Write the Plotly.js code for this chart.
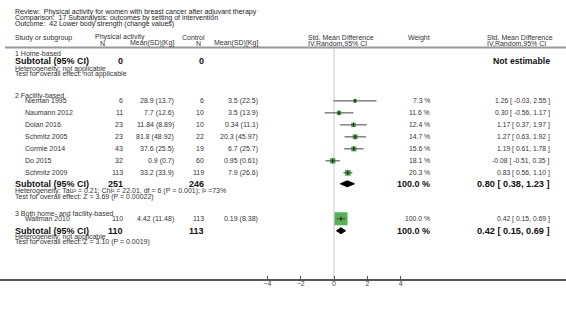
<!DOCTYPE html>
<html><head><meta charset="utf-8">
<script src="https://cdn.plot.ly/plotly-3.0.1.min.js"></script>
<style>html,body{margin:0;padding:0;background:#fff}#chart{width:566px;height:309px}</style>
</head><body><div id="chart"></div>
<script>
// ---- data ----
const facilityStudies = ["Nieman 1995","Naumann 2012","Dolan 2016","Schmitz 2005","Cormie 2014","Do 2015","Schmitz 2009"];
const facilityExpN = [6,11,23,23,43,32,113];
const facilityExpMeanSD = ["28.9 (13.7)","7.7 (12.6)","11.84 (8.89)","81.8 (48.92)","37.6 (25.5)","0.9 (0.7)","33.2 (33.9)"];
const facilityCtlN = [6,10,10,22,19,60,119];
const facilityCtlMeanSD = ["3.5 (22.5)","3.5 (13.9)","0.34 (11.1)","20.3 (45.97)","6.7 (25.7)","0.95 (0.61)","7.9 (26.6)"];
const facilitySMD = [1.26,0.30,1.17,1.27,1.19,-0.08,0.83];
const facilityLo = [-0.03,-0.56,0.37,0.63,0.61,-0.51,0.56];
const facilityHi = [2.55,1.17,1.97,1.92,1.78,0.35,1.10];
const facilityWeight = [7.3,11.6,12.4,14.7,15.6,18.1,20.3];
const bothStudies = ["Waltman 2010"];
const bothExpN = [110];
const bothExpMeanSD = ["4.42 (11.48)"];
const bothCtlN = [113];
const bothCtlMeanSD = ["0.19 (8.38)"];
const bothSMD = [0.42];
const bothLo = [0.15];
const bothHi = [0.69];
const bothWeight = [100.0];
const subtotalNames = ["1 Home-based","2 Facility-based","3 Both home- and facility-based"];
const subtotalExpN = [0,251,110];
const subtotalCtlN = [0,246,113];
const subtotalSMD = [null,0.80,0.42];
const subtotalLo = [null,0.38,0.15];
const subtotalHi = [null,1.23,0.69];
const subtotalHet = ["Heterogeneity: not applicable","Heterogeneity: Tau\u00b2 = 0.21; Chi\u00b2 = 22.01, df = 6 (P = 0.001); I\u00b2 =73%","Heterogeneity: not applicable"];
const subtotalTest = ["Test for overall effect: not applicable","Test for overall effect: Z = 3.69 (P = 0.00022)","Test for overall effect: Z = 3.10 (P = 0.0019)"];
const tickVals = [-4,-2,0,2,4];

// ---- layout helpers ----
const W = 566;
const FONT = "Liberation Sans, Arial, sans-serif";
const C_TXT = "#333";
const ann = [];
function t(px, y, text, anchor, size, bold, color) {
  ann.push({xref:'paper', yref:'y', x: px / W, y: y, text: bold ? '<b>'+text+'</b>' : text,
    xanchor: anchor || 'left', yanchor: 'middle', showarrow: false,
    font: {family: FONT, size: size || 7, color: color || C_TXT}});
}
function fmt(v){ return (v<0?'-':'') + Math.abs(v).toFixed(2); }
function ci(e,l,h){ return fmt(e)+' [ '+fmt(l)+', '+fmt(h)+' ]'; }

// title block
t(13, 12, "Review:  Physical activity for women with breast cancer after adjuvant therapy", 'left', 7, false, '#222');
t(13, 18, "Comparison:  17 Subanalysis: outcomes by setting of intervention", 'left', 7, false, '#222');
t(13, 24, "Outcome:  42 Lower body strength (change values)", 'left', 7, false, '#222');
// header
t(13, 38, "Study or subgroup");
t(93, 37.5, "Physical activity");
t(102, 43.5, "N", 'center');
t(176, 43.5, "Mean(SD)[Kg]", 'right');
t(180, 37.5, "Control");
t(198, 43.5, "N", 'center');
t(260, 43.5, "Mean(SD)[Kg]", 'right');
t(306, 37.5, "Std. Mean Difference");
t(306, 43.5, "IV,Random,95% CI");
t(406, 38, "Weight");
t(485, 37.5, "Std. Mean Difference");
t(485, 43.5, "IV,Random,95% CI");

const xNexp = 125, xMexp = 176, xNctl = 206, xMctl = 260, xW = 432, xCI = 552;

// group rows
const groupHeadY = [54, 96, 214];
const studyStartY = [null, 101, 219];
const rowStep = 12;
const subY = [61, 184, 231];
const hetY = [69, 191.5, 237];
const testY = [74.5, 197, 242.5];

const groups = [
  null,
  {names: facilityStudies, en: facilityExpN, em: facilityExpMeanSD, cn: facilityCtlN, cm: facilityCtlMeanSD, e: facilitySMD, l: facilityLo, h: facilityHi, w: facilityWeight},
  {names: bothStudies, en: bothExpN, em: bothExpMeanSD, cn: bothCtlN, cm: bothCtlMeanSD, e: bothSMD, l: bothLo, h: bothHi, w: bothWeight}
];

const sqX=[], sqY=[], sqS=[], ciX=[], ciY=[], tkX=[], tkY=[];
const traces = [];

subtotalNames.forEach((gname, gi) => {
  t(13, groupHeadY[gi], gname);
  const g = groups[gi];
  if (g) {
    g.names.forEach((nm, i) => {
      const y = studyStartY[gi] + i*rowStep;
      t(23, y, nm);
      t(xNexp, y, String(g.en[i]), 'right');
      t(xMexp, y, g.em[i], 'right');
      t(xNctl, y, String(g.cn[i]), 'right');
      t(xMctl, y, g.cm[i], 'right');
      t(xW, y, g.w[i].toFixed(1)+' %', 'right', 6.8);
      t(xCI, y, ci(g.e[i], g.l[i], g.h[i]), 'right', 6.8);
      sqX.push(g.e[i]); sqY.push(y); sqS.push(1.3*Math.sqrt(g.w[i]));
      ciX.push(g.l[i], g.h[i], null); ciY.push(y, y, null);
      tkX.push(g.e[i]); tkY.push(y);
    });
  }
  // subtotal
  const sy = subY[gi];
  t(13, sy, "Subtotal (95% CI)", 'left', 9, true, '#111');
  t(xNexp, sy, String(subtotalExpN[gi]), 'right', 9, true, '#111');
  t(xNctl, sy, String(subtotalCtlN[gi]), 'right', 9, true, '#111');
  if (subtotalSMD[gi] === null) {
    t(xCI, sy, "Not estimable", 'right', 8.7, true, '#111');
  } else {
    t(xW, sy, "100.0 %", 'right', 9, true, '#111');
    t(xCI, sy, ci(subtotalSMD[gi], subtotalLo[gi], subtotalHi[gi]), 'right', 9.2, true, '#111');
    const e = subtotalSMD[gi], l = subtotalLo[gi], h = subtotalHi[gi];
    traces.push({type:'scatter', mode:'lines', x:[l, e, h, e, l], y:[sy, sy-3, sy, sy+3, sy],
      fill:'toself', fillcolor:'#000', line:{color:'#000', width:1}, hoverinfo:'skip', showlegend:false});
  }
  t(13, hetY[gi], subtotalHet[gi]);
  t(13, testY[gi], subtotalTest[gi]);
});

t(258, 290, "Favours control", 'right');
t(321, 290, "Favours physical activity", 'left');

traces.unshift({type:'scatter', mode:'markers', x:sqX, y:sqY,
  marker:{symbol:'square', size:sqS, color:'#0a930a', line:{width:0}}, hoverinfo:'skip', showlegend:false});
traces.push({type:'scatter', mode:'lines', x:ciX, y:ciY, line:{color:'#444', width:1}, connectgaps:false, hoverinfo:'skip', showlegend:false});
traces.push({type:'scatter', mode:'markers', x:tkX, y:tkY,
  marker:{symbol:'line-ns', size:3, line:{color:'#111', width:1}}, hoverinfo:'skip', showlegend:false});

const layout = {
  width: 566, height: 309,
  margin: {l:0, r:0, t:0, b:30, pad:0},
  paper_bgcolor:'#fff', plot_bgcolor:'#fff',
  showlegend:false,
  xaxis: {range:[-20.04, 13.92], showgrid:false, zeroline:false, showline:true, linecolor:'#555', linewidth:1.5,
    tickvals: tickVals, ticks:'inside', ticklen:3, tickcolor:'#555', tickwidth:1, ticklabelstandoff:-3,
    tickfont:{family:FONT, size:7, color:'#444'}, fixedrange:true},
  yaxis: {range:[279.3, 0], visible:false, showgrid:false, zeroline:false, fixedrange:true},
  shapes: [
    {type:'line', xref:'paper', yref:'y', x0:5/W, x1:1, y0:47.5, y1:47.5, line:{color:'#999', width:2}},
    {type:'line', xref:'x', yref:'y', x0:0, x1:0, y0:48.5, y1:279.3, line:{color:'#c8c8c8', width:1}, layer:'below'}
  ],
  annotations: ann
};
Plotly.newPlot('chart', traces, layout, {displayModeBar:false, staticPlot:true});
</script></body></html>
